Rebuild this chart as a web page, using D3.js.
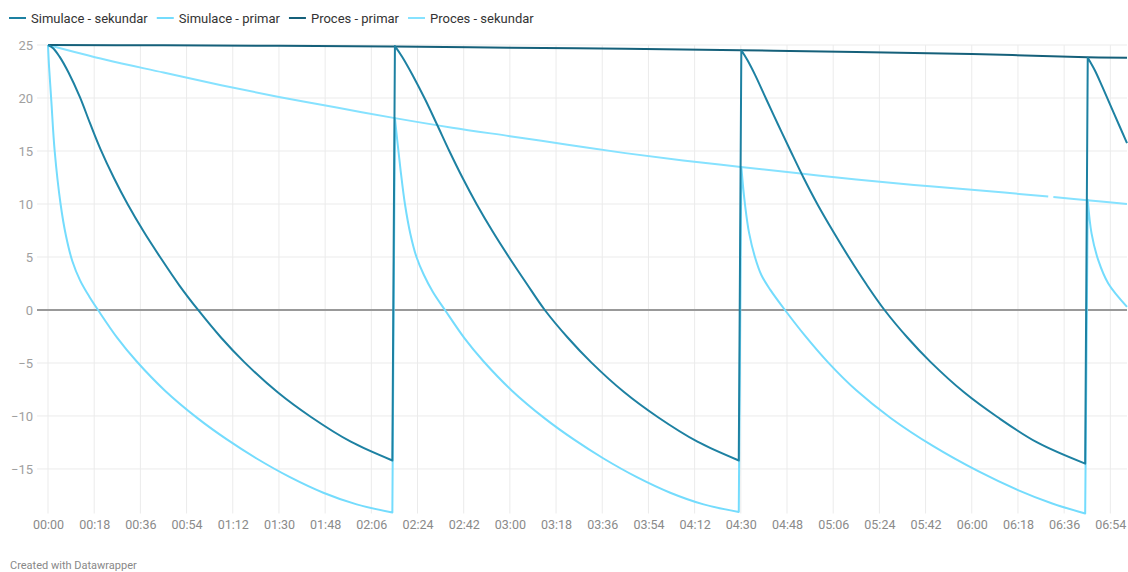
<!DOCTYPE html>
<html>
<head>
<meta charset="utf-8">
<script src="https://cdn.jsdelivr.net/npm/d3@7"></script>
<style>
  body { margin: 0; background: #fff; font-family: Roboto, "Noto Sans", sans-serif; }
</style>
</head>
<body>
<div id="chart"></div>
<script>
// legend order
var seriesNames = ['Simulace - sekundar', 'Simulace - primar', 'Proces - primar', 'Proces - sekundar'];
var seriesColors = ['#1d81a2', '#74dcfd', '#15607a', '#86e2ff'];

var xTickLabels = ['00:00', '00:18', '00:36', '00:54', '01:12', '01:30', '01:48', '02:06', '02:24', '02:42', '03:00', '03:18',
                   '03:36', '03:54', '04:12', '04:30', '04:48', '05:06', '05:24', '05:42', '06:00', '06:18', '06:36', '06:54'];
var yTicks = [25, 20, 15, 10, 5, 0, -5, -10, -15];

// minutes from start -> value
var simSekMin = [0, 2, 4.5, 8, 12.4, 16.4, 20.4, 25.7, 31, 37.4, 43.8, 51.1, 58.5, 67.5, 76.5, 89.5, 102.5, 118, 134.2,
  135.2, 138, 142, 146.9, 151.6, 156.4, 161.7, 167, 173.3, 179.6, 186.5, 193.6, 202.6, 211.6, 224.6, 237.6, 253.1, 269.2,
  270.2, 272.5, 275.5, 279.7, 284.5, 289.4, 294.5, 299.8, 306, 312.3, 319, 326, 335, 344, 357, 370, 385.5, 404.2,
  405.2, 408, 411, 415.5, 420.5];
var simSekVal = [25, 24.7, 23.9, 22.4, 20.1, 17.6, 15.2, 12.45, 10, 7.35, 4.95, 2.35, 0, -2.62, -4.92, -7.77, -10.1, -12.43, -14.2,
  24.9, 23.9, 22.2, 19.9, 17.5, 15, 12.4, 10, 7.4, 5, 2.5, 0, -2.62, -4.92, -7.77, -10.1, -12.43, -14.2,
  24.5, 23.6, 22.2, 20, 17.5, 15, 12.45, 10, 7.4, 4.9, 2.4, 0, -2.62, -4.92, -7.77, -10.1, -12.5, -14.5,
  23.8, 22.6, 21.0, 18.5, 15.75];

var simPrimMin = [0, 0.4, 1.3, 2.6, 4.9, 7, 9.5, 12.5, 16, 19.5, 27, 34.5, 45.5, 58.5, 70, 81.3, 94.3, 107.3, 120.3, 134.2,
  135.2, 136.2, 137.4, 139.1, 141.2, 143.6, 146.5, 150, 154.7, 162.2, 169.7, 180.7, 193.7, 205.2, 216.5, 229.5, 242.5, 255.5, 269.2,
  270.2, 270.9, 271.6, 273.2, 275.5, 278, 281.5, 287.2, 295, 304, 315, 328.5, 345, 362.5, 378, 391.1, 404.2,
  405.2, 406.7, 409.3, 413.2, 420.5];
var simPrimVal = [25, 23, 19.7, 15, 10, 7, 4.6, 2.8, 1.3, 0, -2.63, -4.84, -7.59, -10.25, -12.26, -14.01, -15.77, -17.24, -18.34, -19.1,
  18.1, 15.8, 13.2, 10, 7.2, 5, 3.3, 1.7, 0, -2.63, -4.84, -7.59, -10.25, -12.26, -14.01, -15.77, -17.24, -18.34, -19.05,
  13.5, 11.6, 10, 7.3, 5, 3.3, 1.9, 0, -2.42, -4.94, -7.58, -10.21, -12.85, -15.21, -16.99, -18.23, -19.2,
  10.4, 7.2, 4.7, 2.5, 0.3];

var procPrimMin = [0, 45, 90, 135, 180, 225, 270, 315, 360, 405, 420.5];
var procPrimVal = [25, 24.97, 24.93, 24.85, 24.75, 24.65, 24.5, 24.35, 24.15, 23.85, 23.8];

var procSekMin = [0, 22.5, 45, 67.5, 90, 112.5, 135.2, 157.5, 180, 202.5, 225, 247.5, 270, 292.5, 315, 337.5, 360, 389.8, 390.8, 391.8, 405, 420.5];
var procSekVal = [25, 23.6, 22.4, 21.2, 20.1, 19.1, 18.1, 17.2, 16.4, 15.6, 14.8, 14.1, 13.5, 12.9, 12.3, 11.8, 11.35, 10.7, null, 10.65, 10.35, 10.0];

var width = 1128,
    height = 572,
    margin = { top: 45, right: 1, bottom: 58.5, left: 48 };

function toMinutes(label) {
  var p = label.split(':');
  return +p[0] * 60 + +p[1];
}

function zip(mins, vals) {
  return mins.map(function(m, i) { return { t: m, v: vals[i] }; });
}

// cut a series where it jumps back up, so the curve does not bend around the jump
function splitRuns(values) {
  var runs = [[values[0]]];
  for (var i = 1; i < values.length; i++) {
    var a = values[i - 1], b = values[i];
    if (a.v !== null && b.v !== null && b.v - a.v > 5) runs.push([]);
    runs[runs.length - 1].push(b);
  }
  return runs;
}

var series = [
  { name: seriesNames[0], color: seriesColors[0], values: zip(simSekMin, simSekVal) },
  { name: seriesNames[1], color: seriesColors[1], values: zip(simPrimMin, simPrimVal) },
  { name: seriesNames[2], color: seriesColors[2], values: zip(procPrimMin, procPrimVal) },
  { name: seriesNames[3], color: seriesColors[3], values: zip(procSekMin, procSekVal) }
];

var x = d3.scaleLinear().domain([0, 420.5]).range([margin.left, width - margin.right]),
    y = d3.scaleLinear().domain([-19.2, 25]).range([height - margin.bottom, margin.top]);

var svg = d3.select('#chart').append('svg')
    .attr('width', width)
    .attr('height', height)
    .style('font-family', 'Roboto, sans-serif');

// vertical grid
svg.append('g').selectAll('line')
    .data(xTickLabels)
    .enter().append('line')
    .attr('x1', function(d) { return x(toMinutes(d)); })
    .attr('x2', function(d) { return x(toMinutes(d)); })
    .attr('y1', margin.top)
    .attr('y2', height - margin.bottom)
    .attr('stroke', '#ebebeb')
    .attr('stroke-width', 1);

// horizontal grid
svg.append('g').selectAll('line')
    .data(yTicks)
    .enter().append('line')
    .attr('x1', 37)
    .attr('x2', width - margin.right)
    .attr('y1', function(d) { return y(d); })
    .attr('y2', function(d) { return y(d); })
    .attr('stroke', function(d) { return d === 0 ? '#999' : '#ebebeb'; })
    .attr('stroke-width', function(d) { return d === 0 ? 2 : 1; });

// y axis labels
var yAxis = svg.append('g')
    .attr('transform', 'translate(37,0)')
    .call(d3.axisLeft(y).tickValues(yTicks).tickSize(0).tickPadding(4).tickFormat(d3.format('d')));
yAxis.select('.domain').remove();
yAxis.selectAll('text').attr('fill', '#a0a0a0').style('font-size', '13px').style('font-family', 'Roboto, sans-serif');

// x axis labels
var xAxis = svg.append('g')
    .attr('transform', 'translate(0,' + (height - margin.bottom) + ')')
    .call(d3.axisBottom(x)
      .tickValues(xTickLabels.map(toMinutes))
      .tickSize(0)
      .tickPadding(7)
      .tickFormat(function(d, i) { return xTickLabels[i]; }));
xAxis.select('.domain').remove();
xAxis.selectAll('text').attr('fill', '#8a8a8a').style('font-size', '12.5px').style('font-family', 'Roboto, sans-serif');

// lines, first legend entry ends up on top
var line = d3.line()
    .defined(function(d) { return d.v !== null; })
    .x(function(d) { return x(d.t); })
    .y(function(d) { return y(d.v); })
    .curve(d3.curveCatmullRom.alpha(0.5));

function pathFor(values) {
  // each run is smooth, the jumps between runs are straight segments
  return splitRuns(values).map(function(run, i) {
    var p = line(run);
    return i ? p.replace(/^M/, 'L') : p;
  }).join('');
}

svg.append('g').attr('class', 'lines').selectAll('path')
    .data(series.slice().reverse())
    .enter().append('path')
    .attr('d', function(d) { return pathFor(d.values); })
    .attr('fill', 'none')
    .attr('stroke', function(d) { return d.color; })
    .attr('stroke-width', 2)
    .attr('stroke-linejoin', 'round');

// legend
var legend = svg.append('g').attr('class', 'legend');
var lx = 9;
series.forEach(function(s) {
  legend.append('line')
      .attr('x1', lx).attr('x2', lx + 17)
      .attr('y1', 18).attr('y2', 18)
      .attr('stroke', s.color)
      .attr('stroke-width', 2);
  var t = legend.append('text')
      .attr('x', lx + 22)
      .attr('y', 22.5)
      .attr('fill', '#333')
      .style('font-size', '13px')
      .text(s.name);
  lx += 22 + t.node().getComputedTextLength() + 9;
});

// footer
svg.append('text')
    .attr('x', 10)
    .attr('y', 569)
    .attr('fill', '#888')
    .style('font-size', '11px')
    .text('Created with Datawrapper');
</script>
</body>
</html>
